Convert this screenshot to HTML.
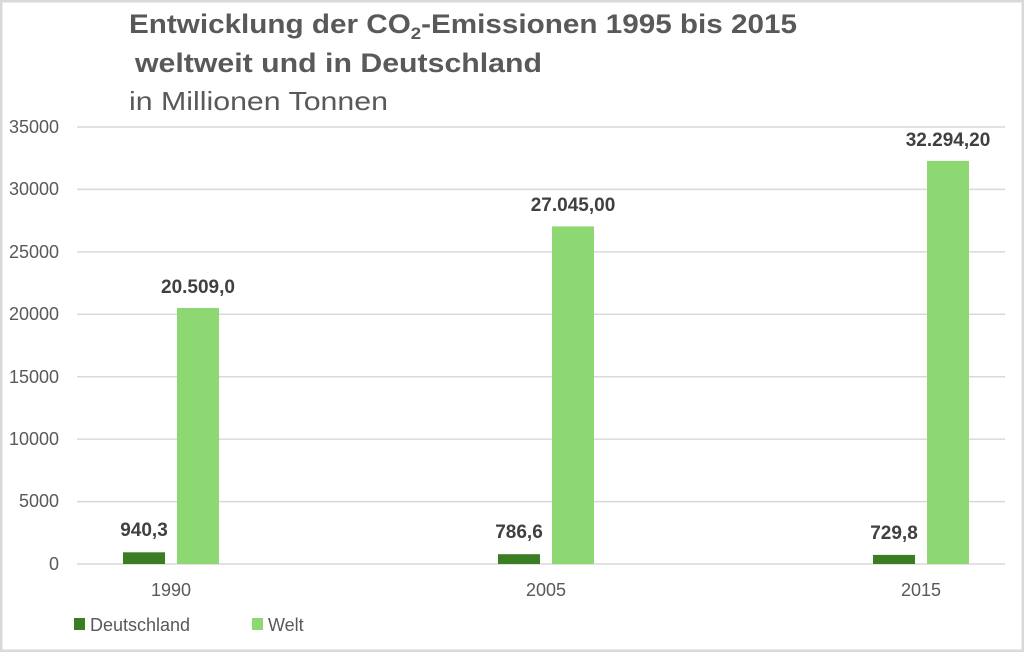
<!DOCTYPE html>
<html><head><style>
html,body{margin:0;padding:0;background:#fff}
svg{display:block;font-family:"Liberation Sans",sans-serif}
</style></head><body>
<svg width="1024" height="652" viewBox="0 0 1024 652" xmlns="http://www.w3.org/2000/svg">
<rect x="1" y="1" width="1022" height="650" fill="#fff" stroke="#d9d9d9" stroke-width="3"/>
<text x="129" y="33" font-size="27" font-weight="bold" fill="#595959" textLength="668" lengthAdjust="spacingAndGlyphs">Entwicklung der CO<tspan font-size="17" dy="6">2</tspan><tspan dy="-6">-Emissionen 1995 bis 2015</tspan></text>
<text x="135" y="72" font-size="27" font-weight="bold" fill="#595959" textLength="407" lengthAdjust="spacingAndGlyphs">weltweit und in Deutschland</text>
<text x="129" y="110" font-size="26" fill="#595959" textLength="259" lengthAdjust="spacingAndGlyphs">in Millionen Tonnen</text>
<g stroke="#d9d9d9" stroke-width="1.5">
<line x1="77" x2="1005" y1="127" y2="127"/>
<line x1="77" x2="1005" y1="189.4" y2="189.4"/>
<line x1="77" x2="1005" y1="251.9" y2="251.9"/>
<line x1="77" x2="1005" y1="314.3" y2="314.3"/>
<line x1="77" x2="1005" y1="376.7" y2="376.7"/>
<line x1="77" x2="1005" y1="439.1" y2="439.1"/>
<line x1="77" x2="1005" y1="501.6" y2="501.6"/>
<line x1="77" x2="1005" y1="564" y2="564"/>
</g>
<g font-size="18" fill="#595959" text-anchor="end">
<text x="59" y="133">35000</text><text x="59" y="195">30000</text><text x="59" y="258">25000</text>
<text x="59" y="320">20000</text><text x="59" y="383">15000</text><text x="59" y="445">10000</text>
<text x="59" y="507">5000</text><text x="59" y="570">0</text>
</g>
<g fill="#3a7d22">
<rect x="123" y="552.3" width="42" height="11.7"/>
<rect x="498" y="554.2" width="42" height="9.8"/>
<rect x="873" y="554.9" width="42" height="9.1"/>
</g>
<g fill="#8ed873">
<rect x="177" y="308" width="42" height="256"/>
<rect x="552" y="226.4" width="42" height="337.6"/>
<rect x="927" y="160.9" width="42" height="403.1"/>
</g>
<g font-size="19" font-weight="bold" fill="#404040" text-anchor="middle">
<text x="144" y="536">940,3</text><text x="198" y="293">20.509,0</text>
<text x="519" y="538">786,6</text><text x="573" y="211">27.045,00</text>
<text x="894" y="539">729,8</text><text x="948" y="146">32.294,20</text>
</g>
<g font-size="18" fill="#595959" text-anchor="middle">
<text x="171" y="596">1990</text><text x="546" y="596">2005</text><text x="921" y="596">2015</text>
</g>
<rect x="74" y="618" width="11" height="12" fill="#3a7d22"/>
<text x="90" y="631" font-size="18" fill="#595959">Deutschland</text>
<rect x="252" y="618" width="11" height="12" fill="#8ed873"/>
<text x="268" y="631" font-size="18" fill="#595959">Welt</text>
</svg>
</body></html>
